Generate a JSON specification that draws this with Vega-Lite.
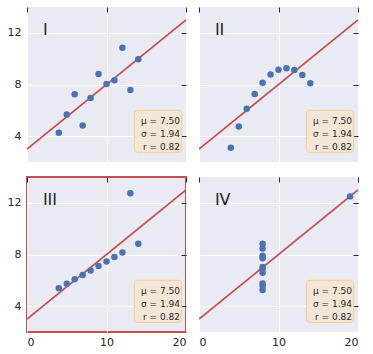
{
  "$schema": "https://vega.github.io/schema/vega-lite/v6.json",
  "background": "#FFFFFF",
  "padding": {"left": 6, "top": 6, "right": 0, "bottom": 0},
  "bounds": "flush",
  "columns": 2,
  "spacing": {"row": 15, "column": 13},
  "datasets": {
    "d1": [
      {"x": 10, "y": 8.04}, {"x": 8, "y": 6.95}, {"x": 13, "y": 7.58}, {"x": 9, "y": 8.81},
      {"x": 11, "y": 8.33}, {"x": 14, "y": 9.96}, {"x": 6, "y": 7.24}, {"x": 4, "y": 4.26},
      {"x": 12, "y": 10.84}, {"x": 7, "y": 4.82}, {"x": 5, "y": 5.68}
    ],
    "d2": [
      {"x": 10, "y": 9.14}, {"x": 8, "y": 8.14}, {"x": 13, "y": 8.74}, {"x": 9, "y": 8.77},
      {"x": 11, "y": 9.26}, {"x": 14, "y": 8.1}, {"x": 6, "y": 6.13}, {"x": 4, "y": 3.1},
      {"x": 12, "y": 9.13}, {"x": 7, "y": 7.26}, {"x": 5, "y": 4.74}
    ],
    "d3": [
      {"x": 10, "y": 7.46}, {"x": 8, "y": 6.77}, {"x": 13, "y": 12.74}, {"x": 9, "y": 7.11},
      {"x": 11, "y": 7.81}, {"x": 14, "y": 8.84}, {"x": 6, "y": 6.08}, {"x": 4, "y": 5.39},
      {"x": 12, "y": 8.15}, {"x": 7, "y": 6.42}, {"x": 5, "y": 5.73}
    ],
    "d4": [
      {"x": 8, "y": 6.58}, {"x": 8, "y": 5.76}, {"x": 8, "y": 7.71}, {"x": 8, "y": 8.84},
      {"x": 8, "y": 8.47}, {"x": 8, "y": 7.04}, {"x": 8, "y": 5.25}, {"x": 19, "y": 12.5},
      {"x": 8, "y": 5.56}, {"x": 8, "y": 7.91}, {"x": 8, "y": 6.89}
    ],
    "fit": [{"x": 0, "y": 3}, {"x": 20, "y": 13}],
    "one": [{}]
  },
  "concat": [
    {
      "width": 159, "height": 155,
      "layer": [
        {"data": {"name": "fit"}, "mark": {"type": "line", "color": "#C44E52", "strokeWidth": 1.8, "clip": true},
         "encoding": {
           "x": {"field": "x", "type": "quantitative", "scale": {"domain": [0, 20], "nice": false, "zero": false},
                 "axis": {"orient": "bottom", "values": [0, 10, 20], "grid": true, "gridColor": "#FFFFFF", "gridWidth": 1, "domain": false, "ticks": false, "labels": false, "title": null}},
           "y": {"field": "y", "type": "quantitative", "scale": {"domain": [2, 14], "nice": false, "zero": false},
                 "axis": {"orient": "left", "values": [4, 8, 12], "grid": true, "gridColor": "#FFFFFF", "gridWidth": 1, "domain": false, "ticks": false, "labels": true, "labelFontSize": 11, "labelColor": "#262626", "labelPadding": 6, "title": null}}}},
        {"data": {"name": "d1"}, "mark": {"type": "circle", "color": "#4C72B0", "opacity": 1, "size": 42},
         "encoding": {
           "x": {"field": "x", "type": "quantitative", "axis": {"orient": "top", "offset": -5, "values": [0, 10, 20], "grid": false, "domain": false, "labels": false, "ticks": true, "tickSize": 5, "tickColor": "#262626", "tickWidth": 1, "title": null}},
           "y": {"field": "y", "type": "quantitative", "axis": {"orient": "right", "offset": -5, "values": [4, 8, 12], "grid": false, "domain": false, "labels": false, "ticks": true, "tickSize": 5, "tickColor": "#262626", "tickWidth": 1, "title": null}}}},
        {"data": {"name": "one"}, "mark": {"type": "rect", "fill": "#F3E6D7", "stroke": "#F3CF8E", "strokeWidth": 1, "cornerRadius": 3},
         "encoding": {"x": {"datum": 13.5, "type": "quantitative", "axis": null}, "x2": {"datum": 19.45}, "y": {"datum": 6.0, "type": "quantitative", "axis": null}, "y2": {"datum": 2.75}}},
        {"data": {"name": "one"}, "mark": {"type": "text", "text": ["μ = 7.50", "σ = 1.94", "r = 0.82"], "align": "right", "baseline": "middle", "fontSize": 9, "lineHeight": 13, "font": "DejaVu Sans", "color": "#262626"},
         "encoding": {"x": {"datum": 19.25, "type": "quantitative", "axis": null}, "y": {"datum": 5.2, "type": "quantitative", "axis": null}}},
        {"data": {"name": "one"}, "mark": {"type": "text", "text": "I", "align": "left", "baseline": "middle", "fontSize": 16, "font": "DejaVu Sans", "color": "#262626"},
         "encoding": {"x": {"datum": 2, "type": "quantitative", "axis": null}, "y": {"datum": 12.2, "type": "quantitative", "axis": null}}}
      ],
      "resolve": {"axis": {"x": "independent", "y": "independent"}}
    },
    {
      "width": 159, "height": 155,
      "layer": [
        {"data": {"name": "fit"}, "mark": {"type": "line", "color": "#C44E52", "strokeWidth": 1.8, "clip": true},
         "encoding": {
           "x": {"field": "x", "type": "quantitative", "scale": {"domain": [0, 20], "nice": false, "zero": false},
                 "axis": {"orient": "bottom", "values": [0, 10, 20], "grid": true, "gridColor": "#FFFFFF", "gridWidth": 1, "domain": false, "ticks": false, "labels": false, "title": null}},
           "y": {"field": "y", "type": "quantitative", "scale": {"domain": [2, 14], "nice": false, "zero": false},
                 "axis": {"orient": "left", "values": [4, 8, 12], "grid": true, "gridColor": "#FFFFFF", "gridWidth": 1, "domain": false, "ticks": false, "labels": false, "title": null}}}},
        {"data": {"name": "d2"}, "mark": {"type": "circle", "color": "#4C72B0", "opacity": 1, "size": 42},
         "encoding": {
           "x": {"field": "x", "type": "quantitative", "axis": {"orient": "top", "offset": -5, "values": [0, 10, 20], "grid": false, "domain": false, "labels": false, "ticks": true, "tickSize": 5, "tickColor": "#262626", "tickWidth": 1, "title": null}},
           "y": {"field": "y", "type": "quantitative", "axis": {"orient": "right", "offset": -5, "values": [4, 8, 12], "grid": false, "domain": false, "labels": false, "ticks": true, "tickSize": 5, "tickColor": "#262626", "tickWidth": 1, "title": null}}}},
        {"data": {"name": "one"}, "mark": {"type": "rect", "fill": "#F3E6D7", "stroke": "#F3CF8E", "strokeWidth": 1, "cornerRadius": 3},
         "encoding": {"x": {"datum": 13.5, "type": "quantitative", "axis": null}, "x2": {"datum": 19.45}, "y": {"datum": 6.0, "type": "quantitative", "axis": null}, "y2": {"datum": 2.75}}},
        {"data": {"name": "one"}, "mark": {"type": "text", "text": ["μ = 7.50", "σ = 1.94", "r = 0.82"], "align": "right", "baseline": "middle", "fontSize": 9, "lineHeight": 13, "font": "DejaVu Sans", "color": "#262626"},
         "encoding": {"x": {"datum": 19.25, "type": "quantitative", "axis": null}, "y": {"datum": 5.2, "type": "quantitative", "axis": null}}},
        {"data": {"name": "one"}, "mark": {"type": "text", "text": "II", "align": "left", "baseline": "middle", "fontSize": 16, "font": "DejaVu Sans", "color": "#262626"},
         "encoding": {"x": {"datum": 2, "type": "quantitative", "axis": null}, "y": {"datum": 12.2, "type": "quantitative", "axis": null}}}
      ],
      "resolve": {"axis": {"x": "independent", "y": "independent"}}
    },
    {
      "width": 159, "height": 155,
      "view": {"fill": "#EAEAF2", "stroke": "#C44E52", "strokeWidth": 2},
      "layer": [
        {"data": {"name": "fit"}, "mark": {"type": "line", "color": "#C44E52", "strokeWidth": 1.8, "clip": true},
         "encoding": {
           "x": {"field": "x", "type": "quantitative", "scale": {"domain": [0, 20], "nice": false, "zero": false},
                 "axis": {"orient": "bottom", "values": [0, 10, 20], "grid": true, "gridColor": "#FFFFFF", "gridWidth": 1, "domain": false, "ticks": false, "labels": true, "labelFontSize": 11, "labelColor": "#262626", "labelPadding": 4, "title": null}},
           "y": {"field": "y", "type": "quantitative", "scale": {"domain": [2, 14], "nice": false, "zero": false},
                 "axis": {"orient": "left", "values": [4, 8, 12], "grid": true, "gridColor": "#FFFFFF", "gridWidth": 1, "domain": false, "ticks": false, "labels": true, "labelFontSize": 11, "labelColor": "#262626", "labelPadding": 6, "title": null}}}},
        {"data": {"name": "d3"}, "mark": {"type": "circle", "color": "#4C72B0", "opacity": 1, "size": 42},
         "encoding": {
           "x": {"field": "x", "type": "quantitative", "axis": {"orient": "top", "offset": -5, "values": [0, 10, 20], "grid": false, "domain": false, "labels": false, "ticks": true, "tickSize": 5, "tickColor": "#262626", "tickWidth": 1, "title": null}},
           "y": {"field": "y", "type": "quantitative", "axis": {"orient": "right", "offset": -5, "values": [4, 8, 12], "grid": false, "domain": false, "labels": false, "ticks": true, "tickSize": 5, "tickColor": "#262626", "tickWidth": 1, "title": null}}}},
        {"data": {"name": "one"}, "mark": {"type": "rect", "fill": "#F3E6D7", "stroke": "#F3CF8E", "strokeWidth": 1, "cornerRadius": 3},
         "encoding": {"x": {"datum": 13.5, "type": "quantitative", "axis": null}, "x2": {"datum": 19.45}, "y": {"datum": 6.0, "type": "quantitative", "axis": null}, "y2": {"datum": 2.75}}},
        {"data": {"name": "one"}, "mark": {"type": "text", "text": ["μ = 7.50", "σ = 1.94", "r = 0.82"], "align": "right", "baseline": "middle", "fontSize": 9, "lineHeight": 13, "font": "DejaVu Sans", "color": "#262626"},
         "encoding": {"x": {"datum": 19.25, "type": "quantitative", "axis": null}, "y": {"datum": 5.2, "type": "quantitative", "axis": null}}},
        {"data": {"name": "one"}, "mark": {"type": "text", "text": "III", "align": "left", "baseline": "middle", "fontSize": 16, "font": "DejaVu Sans", "color": "#262626"},
         "encoding": {"x": {"datum": 2, "type": "quantitative", "axis": null}, "y": {"datum": 12.2, "type": "quantitative", "axis": null}}}
      ],
      "resolve": {"axis": {"x": "independent", "y": "independent"}}
    },
    {
      "width": 159, "height": 155,
      "layer": [
        {"data": {"name": "fit"}, "mark": {"type": "line", "color": "#C44E52", "strokeWidth": 1.8, "clip": true},
         "encoding": {
           "x": {"field": "x", "type": "quantitative", "scale": {"domain": [0, 20], "nice": false, "zero": false},
                 "axis": {"orient": "bottom", "values": [0, 10, 20], "grid": true, "gridColor": "#FFFFFF", "gridWidth": 1, "domain": false, "ticks": false, "labels": true, "labelFontSize": 11, "labelColor": "#262626", "labelPadding": 4, "title": null}},
           "y": {"field": "y", "type": "quantitative", "scale": {"domain": [2, 14], "nice": false, "zero": false},
                 "axis": {"orient": "left", "values": [4, 8, 12], "grid": true, "gridColor": "#FFFFFF", "gridWidth": 1, "domain": false, "ticks": false, "labels": false, "title": null}}}},
        {"data": {"name": "d4"}, "mark": {"type": "circle", "color": "#4C72B0", "opacity": 1, "size": 42},
         "encoding": {
           "x": {"field": "x", "type": "quantitative", "axis": {"orient": "top", "offset": -5, "values": [0, 10, 20], "grid": false, "domain": false, "labels": false, "ticks": true, "tickSize": 5, "tickColor": "#262626", "tickWidth": 1, "title": null}},
           "y": {"field": "y", "type": "quantitative", "axis": {"orient": "right", "offset": -5, "values": [4, 8, 12], "grid": false, "domain": false, "labels": false, "ticks": true, "tickSize": 5, "tickColor": "#262626", "tickWidth": 1, "title": null}}}},
        {"data": {"name": "one"}, "mark": {"type": "rect", "fill": "#F3E6D7", "stroke": "#F3CF8E", "strokeWidth": 1, "cornerRadius": 3},
         "encoding": {"x": {"datum": 13.5, "type": "quantitative", "axis": null}, "x2": {"datum": 19.45}, "y": {"datum": 6.0, "type": "quantitative", "axis": null}, "y2": {"datum": 2.75}}},
        {"data": {"name": "one"}, "mark": {"type": "text", "text": ["μ = 7.50", "σ = 1.94", "r = 0.82"], "align": "right", "baseline": "middle", "fontSize": 9, "lineHeight": 13, "font": "DejaVu Sans", "color": "#262626"},
         "encoding": {"x": {"datum": 19.25, "type": "quantitative", "axis": null}, "y": {"datum": 5.2, "type": "quantitative", "axis": null}}},
        {"data": {"name": "one"}, "mark": {"type": "text", "text": "IV", "align": "left", "baseline": "middle", "fontSize": 16, "font": "DejaVu Sans", "color": "#262626"},
         "encoding": {"x": {"datum": 2, "type": "quantitative", "axis": null}, "y": {"datum": 12.2, "type": "quantitative", "axis": null}}}
      ],
      "resolve": {"axis": {"x": "independent", "y": "independent"}}
    }
  ],
  "config": {
    "font": "DejaVu Sans",
    "view": {"fill": "#EAEAF2", "stroke": null},
    "axis": {"labelFont": "DejaVu Sans"}
  }
}
